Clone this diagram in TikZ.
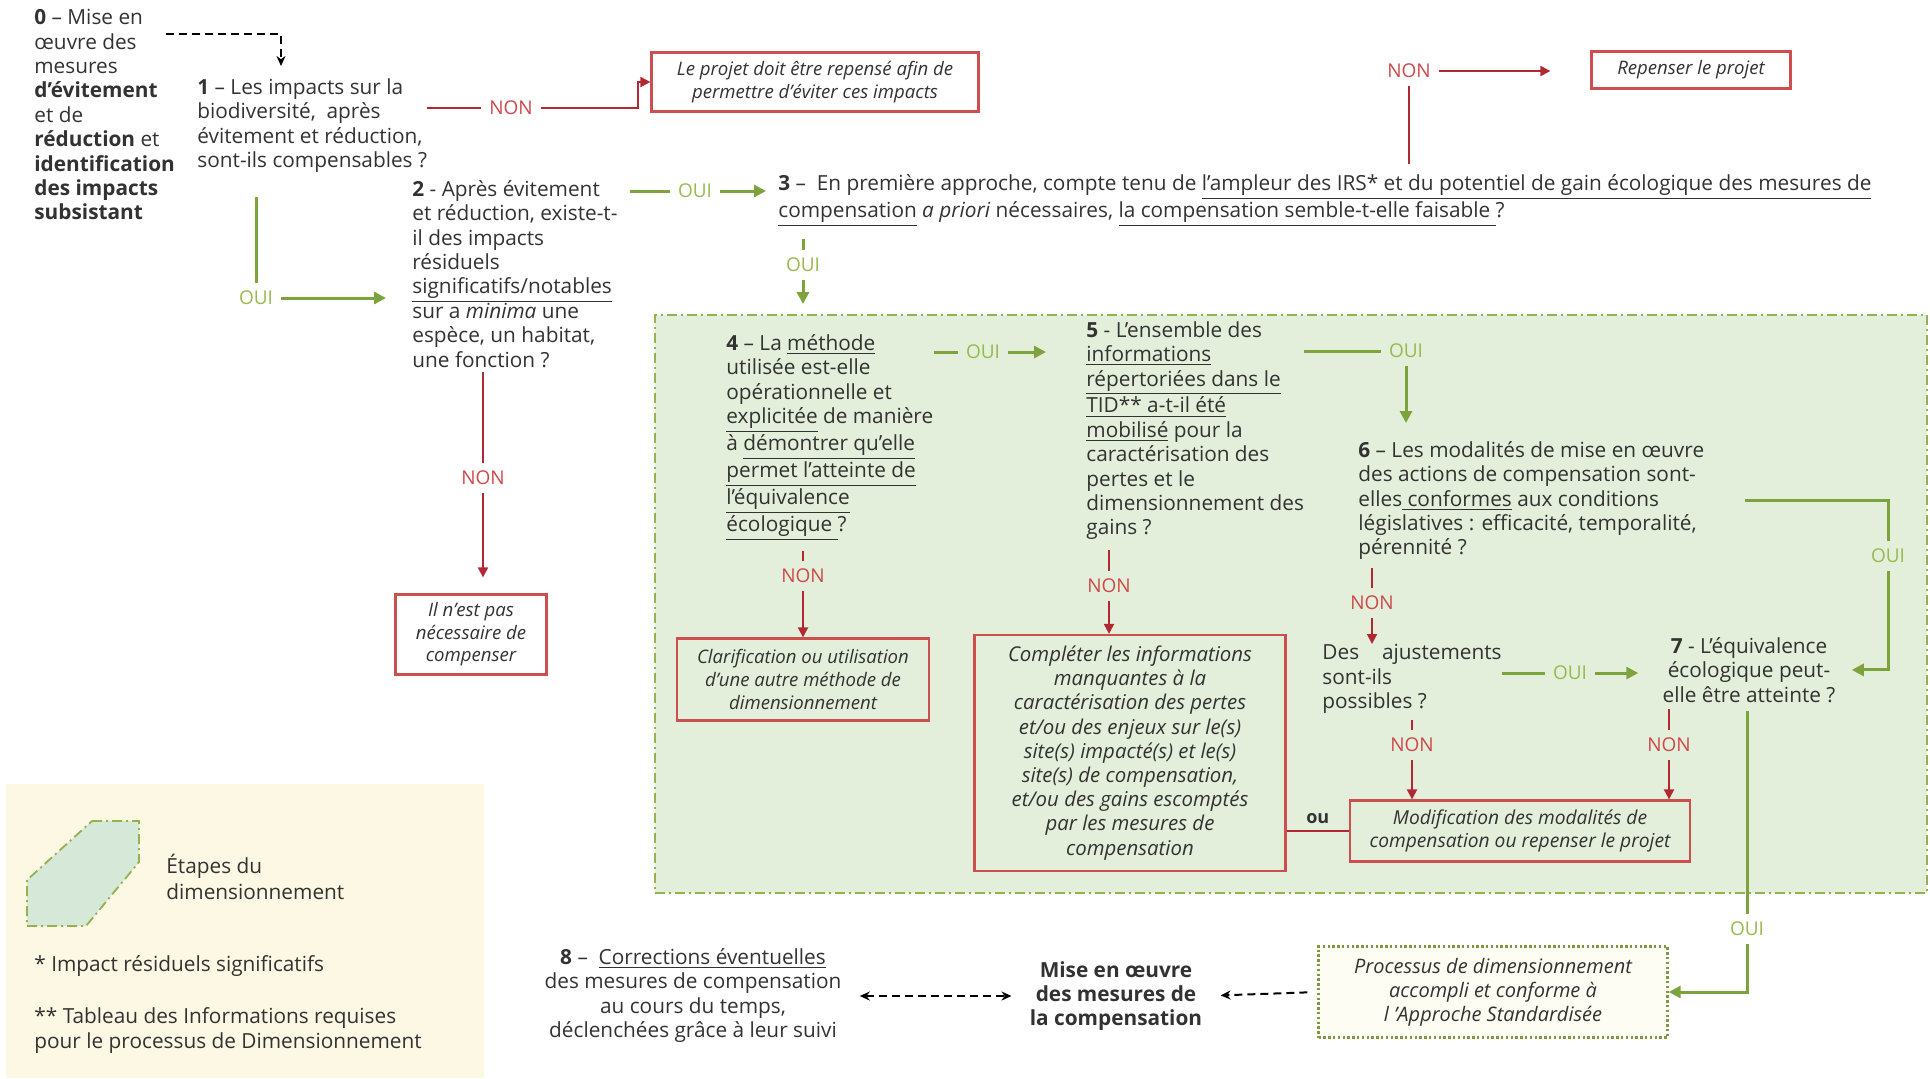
\documentclass[tikz,border=0pt]{standalone}
\usepackage{fontspec}
\setmainfont{Open Sans}
\usetikzlibrary{positioning,arrows.meta}

\definecolor{ouigreen}{RGB}{125,163,60}
\definecolor{ouitext}{RGB}{150,186,78}
\definecolor{nonred}{RGB}{178,40,50}
\definecolor{nontext}{RGB}{206,72,72}
\definecolor{boxred}{RGB}{205,78,78}
\definecolor{zonefill}{RGB}{227,239,218}
\definecolor{zoneline}{RGB}{148,178,78}
\definecolor{legfill}{RGB}{252,248,228}
\definecolor{hexfill}{RGB}{214,232,216}
\definecolor{procfill}{RGB}{253,253,244}
\definecolor{txt}{RGB}{50,50,50}

\begin{document}
\begin{tikzpicture}[
            x=0.5pt, y=-0.5pt,
            every node/.style={text=txt},
            question/.style={inner sep=0pt, anchor=north west, align=left, font=\fontsize{10.4}{12.2}\selectfont},
            redbox/.style={rectangle, draw=boxred, line width=1.1pt, align=center, inner sep=2pt, font=\fontsize{9.3}{11.3}\selectfont\itshape},
            oui/.style={text=ouitext, inner sep=4pt, font=\fontsize{9.5}{11}\selectfont},
            non/.style={text=nontext, inner sep=4pt, font=\fontsize{9.5}{11}\selectfont},
            ouiline/.style={draw=ouigreen, line width=1.5pt},
            ouiarrow/.style={ouiline, -{Triangle[length=6pt,width=6pt]}},
            nonline/.style={draw=nonred, line width=1pt},
            nonarrow/.style={nonline, -{Triangle[length=5pt,width=5pt]}},
            dasharrow/.style={draw=black, line width=1.2pt, dash pattern=on 4pt off 2.5pt, -{Stealth[length=5pt,width=4.5pt]}},
            zone/.style={rectangle, fill=zonefill, draw=zoneline, line width=0.9pt, dash pattern=on 5pt off 2pt on 1pt off 2pt},
            legtext/.style={inner sep=0pt, anchor=north west, align=left, font=\fontsize{10.4}{12.8}\selectfont}
        ]
        \useasboundingbox (0,0) rectangle (1930,1078);

        % backgrounds
        \node[zone, anchor=north west, minimum width=636pt, minimum height=289pt] (zone) at (654,314) {};
        \node[rectangle, fill=legfill, anchor=north west, minimum width=239pt, minimum height=147pt, inner sep=0pt] (legend) at (6,784) {};

        % questions
        \node[question] (q0) at (34,9) {\textbf{0} – Mise en\\ œuvre des\\ mesures\\ \textbf{d’évitement}\\ et de\\ \textbf{réduction} et\\ \textbf{identification}\\ \textbf{des impacts}\\ \textbf{subsistant}};
        \node[question] (q1) at (197,78) {\textbf{1} – Les impacts sur la\\ biodiversité,~ après\\ évitement et réduction,\\ sont-ils compensables ?};
        \node[question] (q2) at (412,180) {\textbf{2} - Après évitement\\ et réduction, existe-t-\\ il des impacts\\ résiduels\\ \underline{significatifs/notables}\\ sur a \textit{minima} une\\ espèce, un habitat,\\ une fonction ?};
        \node[question] (q3) at (778,174) {\textbf{3} –~ En première approche, compte tenu de \underline{l’ampleur des IRS* et du potentiel de gain écologique des mesures de}\\ \underline{compensation} \textit{a priori} nécessaires, \underline{la compensation semble-t-elle faisable }?};
        \node[question] (q4) at (726,334) {\textbf{4} – La \underline{méthode}\\ utilisée est-elle\\ opérationnelle et\\ \underline{explicitée} de manière\\ à \underline{démontrer qu’elle}\\ \underline{permet l’atteinte de}\\ \underline{l’équivalence}\\ \underline{écologique }?};
        \node[question] (q5) at (1086,321) {\textbf{5} - L’ensemble des\\ \underline{informations}\\ \underline{répertoriées dans le}\\ \underline{TID** a-t-il été}\\ \underline{mobilisé} pour la\\ caractérisation des\\ pertes et le\\ dimensionnement des\\ gains ?};
        \node[question] (q6) at (1358,441) {\textbf{6} – Les modalités de mise en œuvre\\ des actions de compensation sont-\\ elles\underline{ conformes} aux conditions\\ législatives : efficacité, temporalité,\\ pérennité ?};
        \node[question] (ajust) at (1322,644) {Des\hspace{1.1em}ajustements\\ sont-ils\\ possibles ?};
        \node[question, anchor=north, align=center] (q7) at (1749,637) {\textbf{7} - L’équivalence\\ écologique peut-\\ elle être atteinte ?};
        \node[question, anchor=north, align=center] (q8) at (693,948) {\textbf{8} –~ \underline{Corrections éventuelles}\\ des mesures de compensation\\ au cours du temps,\\ déclenchées grâce à leur suivi};
        \node[question, anchor=center, align=center, font=\fontsize{10.4}{12.2}\selectfont\bfseries] (mise) at (1116,996) {Mise en œuvre\\ des mesures de\\ la compensation};

        % labels
        \node[non] (non1) at (511,108) {NON};
        \node[oui] (oui1) at (256,298) {OUI};
        \node[non] (non2) at (483,478) {NON};
        \node[oui] (oui2) at (695,191) {OUI};
        \node[non] (non3) at (1409,71) {NON};
        \node[oui] (oui3) at (803,265) {OUI};
        \node[oui] (oui4) at (983,352) {OUI};
        \node[oui] (oui5) at (1406,351) {OUI};
        \node[oui] (oui6) at (1888,556) {OUI};
        \node[non] (non4) at (803,576) {NON};
        \node[non] (non5) at (1109,586) {NON};
        \node[non] (non6) at (1372,603) {NON};
        \node[oui] (oui7) at (1570,673) {OUI};
        \node[non] (non7) at (1412,745) {NON};
        \node[non] (non8) at (1669,745) {NON};
        \node[oui] (oui8) at (1747,929) {OUI};

        % boxes
        \node[redbox, fill=white, minimum width=163.5pt, minimum height=29.5pt] (box1) at (815,82) {Le projet doit être repensé afin de\\ permettre d’éviter ces impacts};
        \node[redbox, fill=white, minimum width=99.5pt, minimum height=18.5pt] (boxR) at (1691,70) {Repenser le projet};
        \node[redbox, fill=white, minimum width=75.5pt, minimum height=40pt, below=50pt of non2, xshift=-6pt] (boxNP) {Il n’est pas\\ nécessaire de\\ compenser};
        \node[redbox, minimum width=126pt, minimum height=41pt, below=23pt of non4] (boxClar) {Clarification ou utilisation\\ d’une autre méthode de\\ dimensionnement};
        \node[redbox, minimum width=155.5pt, minimum height=118pt, font=\fontsize{10.2}{12.1}\selectfont\itshape] (boxComp) at (1130,753) {Compléter les informations\\ manquantes à la\\ caractérisation des pertes\\ et/ou des enjeux sur le(s)\\ site(s) impacté(s) et le(s)\\ site(s) de compensation,\\ et/ou des gains escomptés\\ par les mesures de\\ compensation};
        \node[redbox, minimum width=170pt, minimum height=30.5pt, font=\fontsize{9.6}{11.3}\selectfont\itshape] (boxMod) at (1520,831) {Modification des modalités de\\ compensation ou repenser le projet};
        \node[rectangle, draw=zoneline!85!black, fill=procfill, line width=1.2pt, dash pattern=on 1.2pt off 1.2pt, align=center, minimum width=174.5pt, minimum height=45.5pt, font=\fontsize{10}{12}\selectfont\itshape] (boxProc) at (1493,992) {Processus de dimensionnement\\ accompli et conforme à\\ l ’Approche Standardisée};

        % connectors
        \coordinate (d0) at (166,34);
        \coordinate (d1) at (281,66);
        \draw[dasharrow] (d0) -| (d1);
        \draw[nonline] (q1.east |- non1) -- (non1);
        \draw[nonarrow] (non1) -| ([xshift=-6pt]box1.west) -- (box1.west);
        \draw[ouiline, shorten <=12pt] (oui1 |- q1.south) -- (oui1);
        \draw[ouiarrow, shorten >=13pt] (oui1) -- (oui1 -| q2.west);
        \draw[nonline, shorten <=2pt] (q2.south -| non2) -- (non2);
        \draw[nonarrow, shorten >=8pt] (non2) -- (non2 |- boxNP.north);
        \draw[ouiline, shorten <=6pt] (q2.east |- oui2) -- (oui2);
        \draw[ouiarrow, shorten >=6pt] (oui2) -- (oui2 -| q3.west);
        \draw[nonline, shorten <=5pt] (q3.north -| non3) -- (non3);
        \draw[nonarrow, shorten >=20pt] (non3) -- (non3 -| boxR.west);
        \draw[ouiline, shorten <=6pt] (q3.south -| oui3) -- (oui3);
        \draw[ouiarrow, shorten >=5pt] (oui3) -- (oui3 |- zone.north);
        \draw[ouiline] (q4.east |- oui4) -- (oui4);
        \draw[ouiarrow, shorten >=20pt] (oui4) -- (oui4 -| q5.west);
        \draw[ouiline] (q5.east |- oui5) -- (oui5);
        \draw[ouiarrow, shorten >=9pt] (oui5) -- (oui5 |- q6.north);
        \draw[ouiline, shorten <=20pt] (q6.east) -| (oui6);
        \draw[ouiarrow, shorten >=8pt] (oui6) |- (q7.east);
        \draw[nonline, shorten <=5pt] (q4.south -| non4) -- (non4);
        \draw[nonarrow] (non4) -- (boxClar);
        \draw[nonline, shorten <=5pt] (q5.south -| non5) -- (non5);
        \draw[nonarrow] (non5) -- (non5 |- boxComp.north);
        \draw[nonline, shorten <=4pt] (q6.south -| non6) -- (non6);
        \draw[nonarrow] (non6) -- (non6 |- ajust.north);
        \draw[ouiline] (ajust.east |- oui7) -- (oui7);
        \draw[ouiarrow, shorten >=12pt] (oui7) -- (oui7 -| q7.west);
        \draw[nonline, shorten <=3pt] (ajust.south -| non7) -- (non7);
        \draw[nonarrow] (non7) -- (non7 |- boxMod.north);
        \draw[nonline, shorten <=3pt] (q7.south -| non8) -- (non8);
        \draw[nonarrow] (non8) -- (non8 |- boxMod.north);
        \draw[nonline] (boxComp.east |- boxMod) -- (boxMod.west) node[midway, above, font=\fontsize{9}{10}\selectfont\bfseries] (ou) {ou};
        \draw[ouiline, shorten <=4pt] (q7.south -| oui8) -- (oui8);
        \draw[ouiarrow] (oui8) |- (boxProc.east);
        \draw[dasharrow, line width=1pt, shorten <=5pt, shorten >=9pt] (boxProc.west) -- (mise.east);
        \draw[dasharrow, {Stealth[length=5pt,width=4.5pt]}-{Stealth[length=5pt,width=4.5pt]}, shorten <=9pt, shorten >=9pt] (q8.east |- mise) -- (mise.west);

        % legend
        \draw[fill=hexfill, draw=zoneline, line width=0.9pt, dash pattern=on 5pt off 2pt on 1pt off 2pt] (92,821) -- (139,821) -- (139,862) -- (86,926) -- (27,926) -- (27,880) -- cycle;
        \node[legtext] (etapes) at (166,854) {Étapes du\\ dimensionnement};
        \node[legtext] (note1) at (34,955) {* Impact résiduels significatifs};
        \node[legtext] (note2) at (34,1007) {** Tableau des Informations requises\\ pour le processus de Dimensionnement};
\end{tikzpicture}
\end{document}
